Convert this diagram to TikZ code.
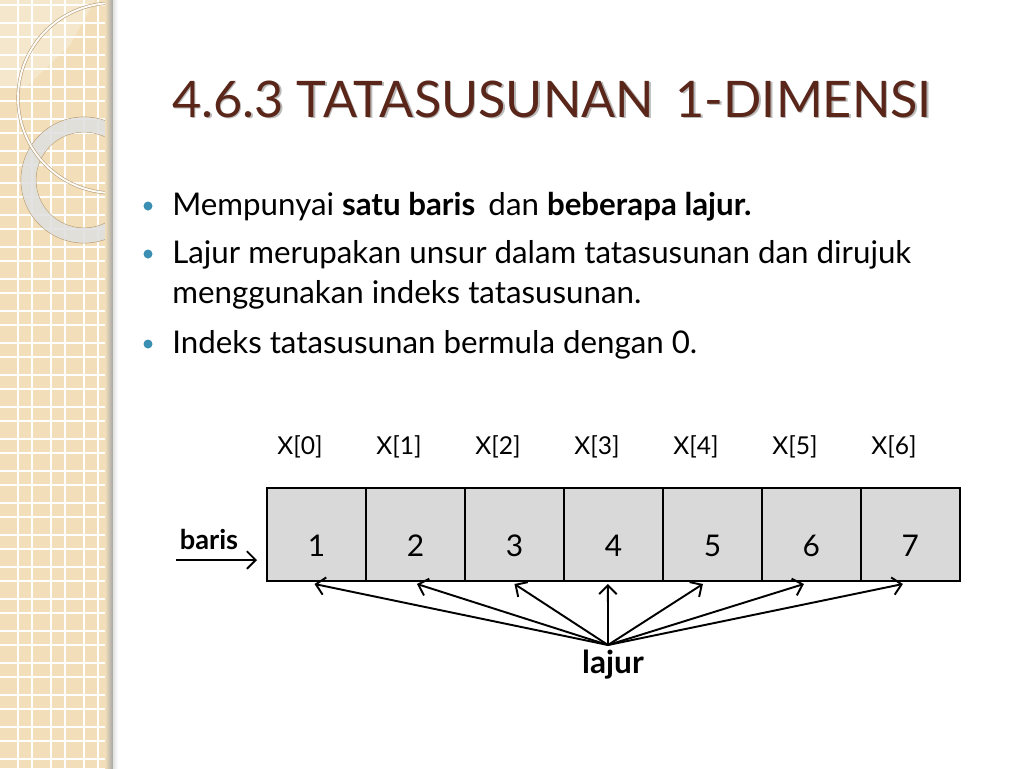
\documentclass[tikz,border=0pt]{standalone}
\usepackage{fontspec}
\setmainfont{Lato}
\usetikzlibrary{positioning,arrows.meta}
\definecolor{titlebrown}{HTML}{5A261A}
\definecolor{dotblue}{HTML}{3A8FB3}
\definecolor{cellgray}{HTML}{D9D9D9}
\definecolor{paper}{HTML}{F2DFBA}
\definecolor{ringedge}{HTML}{B89E78}

\tikzset{
  cell/.style={draw, line width=1.1pt, fill=cellgray, minimum width=1.98cm, minimum height=1.86cm,
    inner sep=0pt, outer sep=0pt, text height=25.5pt, text depth=0pt, font=\fontsize{17}{20}\selectfont},
  idx/.style={font=\fontsize{14}{17}\selectfont},
  bullettext/.style={anchor=base west, inner sep=0pt, align=left, font=\fontsize{17.8}{22.3}\selectfont},
  pointer/.style={-{Straight Barb[length=5pt,width=10pt]}, line width=1.1pt}
}

\begin{document}
\begin{tikzpicture}[x=0.02cm,y=-0.02cm]
\useasboundingbox (0,0) rectangle (1024,768);
%side panel
\fill[paper] (0,0) rectangle (113,768);
\foreach \k in {0,...,24} {
  \draw[white, line width=0.6pt] (\k*33+18,0) -- (\k*33+18,768);
  \draw[white, line width=0.6pt] (\k*33+32,0) -- (\k*33+32,768);
  \draw[white, line width=0.6pt] (0,\k*32+5) -- (113,\k*32+5);
  \draw[white, line width=0.6pt] (0,\k*32+23) -- (113,\k*32+23);
}
\begin{scope}
\clip (0,0) rectangle (113,768);
\fill[white, opacity=0.25] (0,0) -- (95,0) -- (70,45) -- (25,88) -- (0,88) -- cycle;
%rings
\draw[ringedge, line width=0.4pt] (84,180) circle[radius=63];
\draw[ringedge, line width=0.4pt] (84,180) circle[radius=48];
\draw[gray!25, opacity=0.85, line width=0.29cm] (84,180) circle[radius=55.5];
\draw[ringedge, line width=1.8pt] (113,98) circle[radius=95];
\draw[white!90!paper, line width=1.1pt] (113,98) circle[radius=95];
\end{scope}
\shade[left color=paper, right color=black!35] (105,0) rectangle (113,768);
\shade[left color=black!12, right color=white] (113,0) rectangle (118,768);

%title
\node[anchor=base west, inner sep=0pt, text=black!45, opacity=0.6, font=\fontsize{28.7}{34}\selectfont] at (173.5,118.5) {4.6.3 TATASUSUNAN\, 1-DIMENSI};
\node[anchor=base west, inner sep=0pt, text=titlebrown, font=\fontsize{28.7}{34}\selectfont] (title) at (172,117) {4.6.3 TATASUSUNAN\, 1-DIMENSI};

%bullets
\fill[dotblue] (148,206) circle[radius=4.5];
\fill[dotblue] (148,254) circle[radius=4.5];
\fill[dotblue] (148,344) circle[radius=4.5];
\node[bullettext] (b1) at (172,215) {Mempunyai \textbf{satu baris}\, dan \textbf{beberapa lajur.}};
\node[bullettext] (b2) at (172,303) {Lajur merupakan unsur dalam tatasusunan dan dirujuk\\menggunakan indeks tatasusunan.};
\node[bullettext] (b3) at (172,353) {Indeks tatasusunan bermula dengan 0.};

%array
\node[cell] (c0) at (316.5,534.5) {1};
\node[cell, right=0pt of c0] (c1) {2};
\node[cell, right=0pt of c1] (c2) {3};
\node[cell, right=0pt of c2] (c3) {4};
\node[cell, right=0pt of c3] (c4) {5};
\node[cell, right=0pt of c4] (c5) {6};
\node[cell, right=0pt of c5] (c6) {7};

%index labels
\node[idx] (x0) at (300,447) {X[0]};
\node[idx] (x1) at (399,447) {X[1]};
\node[idx] (x2) at (498,447) {X[2]};
\node[idx] (x3) at (597,447) {X[3]};
\node[idx] (x4) at (696,447) {X[4]};
\node[idx] (x5) at (795,447) {X[5]};
\node[idx] (x6) at (894,447) {X[6]};

%baris
\node[font=\bfseries\fontsize{15.5}{18}\selectfont] (baris) at (209,539) {baris};
\coordinate (bstart) at (176,560);
\coordinate (bend) at (257,560);
\draw[pointer] (bstart) -- (bend);

%lajur
\node[font=\bfseries\fontsize{18}{21}\selectfont] (lajur) at (613,665) {lajur};
\coordinate (hub) at (608,645);
\draw[pointer] (hub) -- ([shift={(-2,3)}]c0.south);
\draw[pointer] (hub) -- ([shift={(1.5,3)}]c1.south);
\draw[pointer] (hub) -- ([shift={(0,3)}]c2.south);
\draw[pointer] (hub) -- ([shift={(-5.5,3)}]c3.south);
\draw[pointer] (hub) -- ([shift={(-9.5,3)}]c4.south);
\draw[pointer] (hub) -- ([shift={(-7.5,3)}]c5.south);
\draw[pointer] (hub) -- ([shift={(-7.5,3)}]c6.south);
\end{tikzpicture}
\end{document}
